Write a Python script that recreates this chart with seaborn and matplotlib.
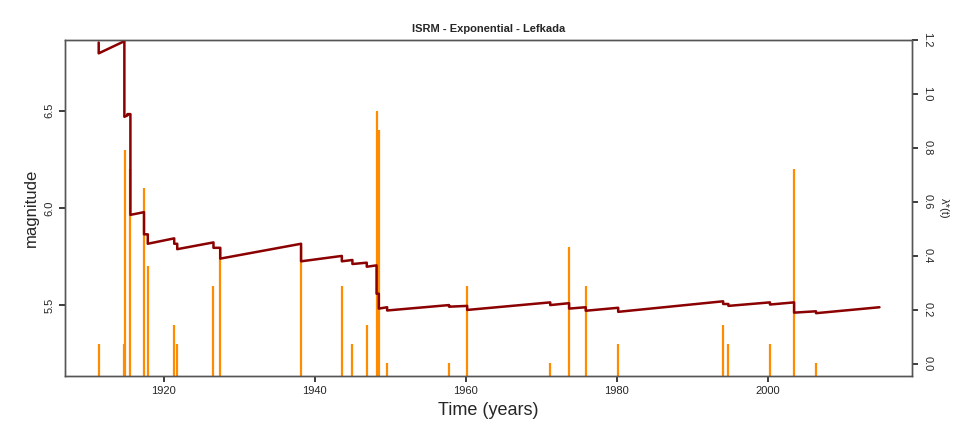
import matplotlib
matplotlib.use("Agg")
import matplotlib.pyplot as plt
import seaborn as sns
import pandas as pd

sns.set_theme(style="white")
plt.rcParams['font.family'] = ['Liberation Sans', 'DejaVu Sans']

# earthquake events (time in years, magnitude)
event_t = [1911.4, 1914.8, 1914.9, 1915.6, 1917.4, 1917.9, 1921.4, 1921.8, 1926.6, 1927.5,
           1938.2, 1943.6, 1945.0, 1946.9, 1948.2, 1948.5, 1949.6, 1957.8, 1960.2,
           1971.2, 1973.7, 1975.9, 1980.2, 1994.1, 1994.8, 2000.3, 2003.5, 2006.4]
event_mag = [5.3, 5.3, 6.3, 6.2, 6.1, 5.7, 5.4, 5.3, 5.6, 5.8,
             5.8, 5.6, 5.3, 5.4, 6.5, 6.4, 5.2, 5.2, 5.6,
             5.2, 5.8, 5.6, 5.3, 5.4, 5.3, 5.3, 6.2, 5.2]

# conditional intensity lambda*(t), vertices
lam_t = [1911.4, 1911.4, 1914.8, 1914.8, 1915.2, 1915.2, 1915.6, 1915.6, 1917.4, 1917.4,
         1917.9, 1917.9, 1921.4, 1921.4, 1921.8, 1921.8, 1926.6, 1926.6, 1927.5, 1927.5,
         1938.2, 1938.2, 1943.6, 1943.6, 1945.0, 1945.0, 1946.9, 1946.9, 1948.2, 1948.2,
         1948.5, 1948.5, 1949.6, 1949.6, 1957.8, 1957.8, 1960.2, 1960.2, 1971.2, 1971.2,
         1973.7, 1973.7, 1975.9, 1975.9, 1980.2, 1980.2, 1994.1, 1994.1, 1994.8, 1994.8,
         2000.3, 2000.3, 2003.5, 2003.5, 2006.4, 2006.4, 2014.8]
lam_v = [1.19, 1.15, 1.195, 0.915, 0.92, 0.925, 0.925, 0.552, 0.562, 0.48,
         0.48, 0.445, 0.465, 0.445, 0.445, 0.425, 0.45, 0.43, 0.43, 0.39,
         0.445, 0.38, 0.40, 0.38, 0.385, 0.37, 0.375, 0.36, 0.365, 0.26,
         0.26, 0.205, 0.21, 0.198, 0.218, 0.212, 0.215, 0.20, 0.228, 0.218,
         0.225, 0.205, 0.21, 0.197, 0.208, 0.193, 0.232, 0.222, 0.222, 0.215,
         0.228, 0.22, 0.228, 0.19, 0.195, 0.188, 0.21]

fig, ax = plt.subplots(figsize=(9.66, 4.33), dpi=100)
fig.subplots_adjust(left=0.067, right=0.944, top=0.908, bottom=0.132)

ymin = 5.136
ax.vlines(event_t, ymin, event_mag, color="#FF8C00", lw=1.6)
ax.set_xlim(1906.9, 2019.1)
ax.set_ylim(ymin, 6.864)
ax.set_yticks([5.5, 6.0, 6.5])
ax.set_xticks([1920, 1940, 1960, 1980, 2000])
ax.set_xlabel("Time (years)", fontsize=13)
ax.set_ylabel("magnitude", fontsize=12)
for lab in ax.get_yticklabels():
    lab.set_rotation(90)
    lab.set_va("center")
ax.tick_params(labelsize=8, length=4, direction="out", bottom=True, left=True)
ax.set_title("ISRM - Exponential - Lefkada", fontsize=8, fontweight="bold")

ax2 = ax.twinx()
lam = pd.DataFrame({"t": lam_t, "v": lam_v})
ax2.plot(lam["t"], lam["v"], color="#8B0000", lw=1.8)
ax2.set_ylim(-0.044, 1.2)
ax2.set_yticks([0.0, 0.2, 0.4, 0.6, 0.8, 1.0, 1.2])
ax2.set_yticklabels(["0.0", "0.2", "0.4", "0.6", "0.8", "1.0", "1.2"], rotation=-90, va="center")
ax2.set_ylabel("λ*(t)", fontsize=8, rotation=-90, labelpad=12)
ax2.tick_params(labelsize=8, length=4, direction="out", right=True)

for a in (ax, ax2):
    for s in a.spines.values():
        s.set_color("#555555")
        s.set_linewidth(1)

fig.savefig("out.png")
